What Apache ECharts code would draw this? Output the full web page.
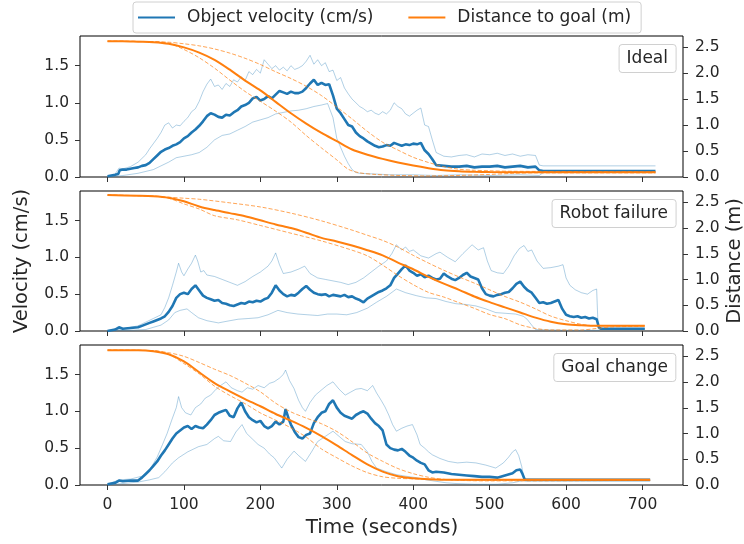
<!DOCTYPE html>
<html>
<head>
<meta charset="utf-8">
<script src="https://cdn.jsdelivr.net/npm/echarts@6/dist/echarts.min.js"></script>
<style>
  html, body { margin: 0; padding: 0; background: #fff; }
  #chart { width: 744px; height: 544px; }
</style>
</head>
<body>
<div id="chart"></div>
<script>
// tick labels
const timeTicks = [0, 100, 200, 300, 400, 500, 600, 700];
const velocityTicks = [0, 0.5, 1, 1.5];
const distanceTicks = [0, 0.5, 1, 1.5, 2, 2.5];
const panelNames = ['Ideal', 'Robot failure', 'Goal change'];

// ---- Ideal: velocity [time, cm/s] ----
const idealVelMean = [[0,0.01],[5,0.02],[10,0.03],[14,0.04],[16,0.09],[20,0.1],[25,0.1],[30,0.11],[35,0.12],[40,0.13],[45,0.15],[50,0.16],[55,0.19],[60,0.24],[65,0.29],[70,0.34],[75,0.37],[80,0.39],[85,0.42],[90,0.44],[95,0.47],[100,0.52],[105,0.55],[110,0.6],[115,0.64],[120,0.69],[125,0.75],[130,0.82],[135,0.86],[140,0.84],[145,0.81],[150,0.8],[155,0.84],[160,0.83],[165,0.87],[170,0.9],[175,0.95],[180,0.97],[185,1.0],[190,1.06],[195,1.08],[200,1.03],[205,1.05],[210,1.09],[215,1.06],[220,1.11],[225,1.16],[230,1.14],[235,1.12],[240,1.15],[245,1.13],[250,1.13],[255,1.15],[260,1.2],[265,1.26],[270,1.31],[275,1.24],[280,1.27],[285,1.24],[290,1.25],[295,1.1],[300,0.92],[305,0.86],[310,0.78],[315,0.7],[320,0.68],[325,0.6],[330,0.55],[335,0.52],[340,0.48],[345,0.45],[350,0.42],[355,0.4],[360,0.41],[365,0.43],[370,0.42],[375,0.46],[380,0.44],[385,0.42],[390,0.44],[395,0.43],[400,0.45],[405,0.44],[410,0.46],[415,0.36],[420,0.31],[425,0.24],[430,0.16],[440,0.15],[450,0.14],[460,0.14],[470,0.15],[480,0.13],[490,0.14],[500,0.14],[510,0.15],[520,0.13],[530,0.14],[540,0.15],[550,0.13],[560,0.14],[565,0.09],[570,0.08],[600,0.08],[650,0.08],[717,0.08]];
const idealVelHigh = [[0,0.01],[10,0.04],[15,0.12],[20,0.11],[30,0.14],[40,0.2],[50,0.3],[55,0.38],[60,0.45],[65,0.52],[70,0.6],[75,0.7],[80,0.73],[85,0.66],[90,0.7],[95,0.69],[100,0.75],[105,0.8],[110,0.88],[115,0.92],[120,1.02],[125,1.15],[130,1.25],[135,1.32],[140,1.22],[145,1.24],[150,1.18],[155,1.26],[160,1.22],[165,1.31],[170,1.28],[175,1.35],[180,1.3],[185,1.42],[190,1.38],[195,1.45],[200,1.4],[205,1.58],[210,1.52],[215,1.46],[220,1.5],[225,1.44],[230,1.48],[235,1.43],[240,1.5],[245,1.45],[250,1.47],[255,1.5],[260,1.56],[265,1.64],[270,1.52],[275,1.58],[280,1.5],[285,1.54],[290,1.42],[295,1.44],[300,1.3],[305,1.34],[310,1.2],[315,1.12],[320,1.05],[325,1.0],[330,0.95],[335,0.92],[340,0.88],[345,0.9],[350,0.86],[355,0.84],[360,0.88],[365,0.85],[370,0.9],[375,1.0],[380,0.95],[385,0.92],[390,0.85],[395,0.82],[400,0.86],[405,0.9],[410,0.93],[415,0.7],[420,0.68],[425,0.5],[430,0.33],[440,0.28],[450,0.27],[460,0.29],[470,0.3],[480,0.27],[490,0.31],[500,0.3],[510,0.32],[520,0.29],[530,0.31],[540,0.28],[550,0.3],[560,0.29],[565,0.16],[570,0.15],[717,0.15]];
const idealVelLow = [[0,0],[20,0.02],[40,0.05],[60,0.1],[70,0.15],[80,0.2],[90,0.26],[100,0.28],[110,0.3],[120,0.33],[130,0.4],[140,0.5],[150,0.56],[160,0.58],[170,0.63],[180,0.68],[190,0.74],[200,0.77],[210,0.8],[220,0.85],[230,0.87],[240,0.89],[250,0.9],[260,0.92],[270,0.95],[280,0.97],[288,0.99],[295,0.8],[300,0.52],[305,0.4],[310,0.28],[315,0.18],[320,0.1],[325,0.06],[330,0.05],[350,0.04],[370,0.03],[400,0.03],[430,0.02],[460,0.03],[500,0.02],[540,0.03],[565,0.02],[570,0.06],[717,0.06]];
// ---- Ideal: distance [time, m] ----
const idealDistMean = [[0,2.62],[20,2.62],[40,2.61],[60,2.6],[80,2.57],[100,2.5],[120,2.4],[140,2.26],[160,2.07],[180,1.86],[200,1.67],[220,1.45],[240,1.23],[260,1.03],[280,0.85],[300,0.69],[320,0.53],[340,0.43],[360,0.35],[380,0.28],[400,0.22],[420,0.17],[440,0.13],[460,0.11],[480,0.1],[500,0.095],[550,0.09],[717,0.09]];
const idealDistHigh = [[0,2.62],[60,2.61],[80,2.6],[100,2.57],[120,2.53],[140,2.47],[160,2.39],[180,2.29],[200,2.17],[220,2.03],[240,1.9],[260,1.75],[280,1.57],[300,1.35],[320,1.12],[340,0.88],[360,0.67],[380,0.52],[400,0.38],[420,0.28],[440,0.2],[460,0.15],[480,0.13],[500,0.12],[530,0.11],[717,0.1]];
const idealDistLow = [[0,2.62],[60,2.61],[80,2.58],[100,2.46],[120,2.3],[140,2.1],[160,1.87],[180,1.65],[200,1.46],[220,1.27],[240,1.06],[260,0.8],[280,0.56],[300,0.33],[315,0.15],[330,0.08],[350,0.05],[380,0.03],[420,0.02],[460,0.03],[500,0.05],[530,0.07],[560,0.08],[717,0.08]];

// ---- Robot failure ----
const failVelMean = [[0,0],[10,0.02],[15,0.05],[20,0.03],[30,0.04],[40,0.05],[45,0.07],[50,0.09],[55,0.11],[60,0.13],[65,0.15],[70,0.17],[75,0.2],[80,0.26],[85,0.34],[90,0.45],[95,0.5],[100,0.52],[105,0.5],[110,0.57],[115,0.62],[120,0.55],[125,0.48],[130,0.45],[135,0.43],[140,0.41],[145,0.42],[150,0.38],[155,0.37],[160,0.35],[165,0.34],[170,0.36],[175,0.38],[180,0.37],[185,0.4],[190,0.39],[195,0.41],[200,0.4],[205,0.43],[210,0.45],[215,0.52],[220,0.62],[225,0.55],[230,0.5],[235,0.47],[240,0.49],[245,0.48],[250,0.52],[255,0.57],[260,0.61],[265,0.56],[270,0.52],[275,0.5],[280,0.49],[285,0.5],[290,0.47],[295,0.49],[300,0.48],[305,0.47],[310,0.49],[315,0.46],[320,0.47],[325,0.44],[330,0.42],[335,0.39],[340,0.44],[345,0.47],[350,0.5],[355,0.53],[360,0.55],[365,0.58],[370,0.62],[375,0.72],[380,0.78],[385,0.84],[390,0.89],[395,0.82],[400,0.79],[405,0.75],[410,0.77],[415,0.73],[420,0.75],[425,0.72],[430,0.7],[435,0.71],[440,0.78],[445,0.74],[450,0.71],[455,0.69],[460,0.72],[465,0.76],[470,0.79],[475,0.74],[480,0.72],[485,0.7],[490,0.58],[495,0.5],[500,0.48],[505,0.47],[510,0.49],[515,0.5],[520,0.52],[525,0.53],[530,0.58],[535,0.64],[540,0.67],[545,0.6],[550,0.55],[555,0.52],[560,0.45],[565,0.38],[570,0.39],[575,0.37],[580,0.38],[585,0.4],[590,0.42],[595,0.3],[600,0.22],[605,0.2],[610,0.19],[615,0.2],[620,0.18],[625,0.19],[630,0.17],[635,0.18],[640,0.16],[643,0.05],[646,0.03],[703,0.03]];
const failVelHigh = [[0,0],[20,0.03],[30,0.05],[40,0.07],[50,0.12],[60,0.17],[70,0.22],[75,0.32],[80,0.45],[85,0.62],[90,0.8],[93,0.92],[97,0.8],[100,0.75],[105,0.84],[110,0.92],[115,1.03],[118,0.95],[122,0.8],[126,0.82],[130,0.76],[140,0.74],[150,0.7],[160,0.66],[170,0.62],[180,0.67],[190,0.74],[200,0.8],[210,0.88],[215,0.95],[220,1.06],[225,0.9],[230,0.78],[240,0.8],[250,0.84],[258,0.88],[265,0.78],[275,0.72],[285,0.7],[295,0.68],[305,0.66],[315,0.63],[325,0.66],[335,0.72],[345,0.8],[355,0.88],[365,0.95],[372,1.05],[378,1.17],[385,1.1],[390,1.14],[395,1.08],[400,1.1],[410,1.02],[420,0.99],[430,1.05],[435,1.07],[445,1.0],[455,0.94],[465,1.05],[472,1.12],[477,1.17],[485,1.1],[492,1.13],[497,0.95],[502,0.82],[510,0.79],[518,0.78],[525,0.88],[532,1.02],[539,1.12],[545,1.16],[550,1.08],[555,1.1],[562,0.95],[570,0.85],[580,0.86],[590,0.88],[596,0.9],[600,0.72],[605,0.62],[612,0.56],[620,0.52],[628,0.5],[635,0.55],[640,0.57],[642,0.03],[703,0.03]];
const failVelLow = [[0,0],[30,0.01],[50,0.02],[60,0.05],[70,0.08],[80,0.15],[88,0.25],[95,0.28],[104,0.3],[110,0.25],[119,0.18],[130,0.14],[145,0.11],[155,0.13],[171,0.16],[185,0.17],[197,0.18],[210,0.22],[223,0.28],[235,0.25],[249,0.23],[262,0.22],[275,0.21],[288,0.23],[300,0.23],[313,0.22],[326,0.25],[340,0.31],[352,0.39],[365,0.47],[378,0.57],[390,0.52],[404,0.48],[417,0.45],[430,0.44],[443,0.4],[456,0.37],[469,0.36],[482,0.34],[495,0.3],[508,0.25],[521,0.24],[534,0.23],[544,0.2],[549,0.16],[555,0.08],[560,0.02],[600,0.01],[643,0.01],[646,0.03],[703,0.03]];
const failDistMean = [[0,2.64],[40,2.63],[60,2.62],[80,2.59],[100,2.52],[120,2.42],[140,2.35],[160,2.29],[180,2.23],[200,2.15],[220,2.07],[240,2.0],[260,1.91],[280,1.81],[300,1.74],[320,1.66],[340,1.57],[360,1.47],[380,1.33],[400,1.2],[420,1.05],[440,0.92],[460,0.8],[480,0.67],[500,0.56],[520,0.46],[540,0.36],[560,0.26],[580,0.18],[600,0.13],[620,0.11],[640,0.1],[703,0.1]];
const failDistHigh = [[0,2.64],[60,2.62],[80,2.6],[100,2.58],[120,2.56],[160,2.49],[200,2.41],[240,2.29],[280,2.14],[320,1.96],[340,1.86],[360,1.76],[380,1.63],[400,1.47],[420,1.32],[440,1.18],[460,1.05],[480,0.93],[500,0.8],[520,0.67],[540,0.56],[560,0.43],[580,0.29],[600,0.2],[620,0.13],[640,0.1],[703,0.1]];
const failDistLow = [[0,2.64],[60,2.62],[80,2.58],[100,2.47],[120,2.37],[140,2.24],[170,2.16],[200,2.05],[240,1.9],[280,1.75],[320,1.57],[340,1.46],[360,1.28],[380,1.08],[400,0.9],[420,0.75],[440,0.66],[460,0.55],[480,0.44],[500,0.32],[520,0.24],[540,0.12],[560,0.05],[580,0.02],[620,0.02],[640,0.05],[660,0.08],[703,0.09]];

// ---- Goal change ----
const goalVelMean = [[0,0.01],[10,0.03],[15,0.06],[20,0.05],[30,0.06],[40,0.06],[45,0.1],[50,0.15],[55,0.2],[60,0.26],[65,0.32],[70,0.4],[75,0.47],[80,0.55],[85,0.63],[90,0.7],[95,0.74],[100,0.78],[105,0.8],[110,0.76],[115,0.8],[120,0.78],[125,0.77],[130,0.82],[135,0.88],[140,0.95],[145,0.98],[150,1.0],[155,1.02],[160,0.94],[165,0.92],[170,1.04],[175,1.12],[180,1.0],[185,0.92],[190,0.88],[195,0.85],[200,0.87],[205,0.8],[210,0.77],[215,0.8],[220,0.86],[225,0.82],[230,0.86],[233,1.03],[237,0.9],[240,0.82],[245,0.72],[250,0.65],[255,0.63],[260,0.68],[265,0.7],[270,0.84],[275,0.92],[280,0.98],[285,1.0],[290,1.1],[295,1.15],[300,1.05],[305,0.98],[310,0.94],[315,0.92],[320,0.9],[325,0.95],[330,0.98],[335,1.0],[340,0.97],[345,0.9],[350,0.84],[355,0.8],[360,0.74],[365,0.55],[370,0.5],[375,0.48],[380,0.47],[385,0.49],[390,0.45],[395,0.4],[400,0.37],[405,0.33],[410,0.3],[415,0.28],[420,0.2],[425,0.17],[430,0.18],[440,0.17],[450,0.15],[460,0.14],[470,0.13],[480,0.12],[490,0.11],[500,0.11],[510,0.1],[520,0.13],[530,0.16],[535,0.2],[540,0.21],[543,0.15],[546,0.07],[710,0.07]];
const goalVelHigh = [[0,0.01],[15,0.07],[30,0.08],[45,0.12],[55,0.2],[65,0.38],[72,0.55],[78,0.7],[84,0.88],[90,1.05],[93,1.2],[97,1.05],[102,0.98],[109,0.95],[115,1.05],[122,1.1],[128,1.18],[135,1.22],[142,1.3],[148,1.35],[155,1.4],[162,1.32],[170,1.28],[176,1.26],[183,1.32],[190,1.3],[197,1.35],[205,1.32],[212,1.38],[218,1.4],[225,1.45],[230,1.5],[233,1.56],[238,1.42],[244,1.31],[250,1.15],[255,1.05],[259,1.0],[265,1.12],[272,1.22],[280,1.29],[287,1.35],[295,1.4],[303,1.3],[311,1.22],[318,1.26],[325,1.3],[332,1.31],[340,1.28],[347,1.35],[352,1.25],[358,1.15],[363,1.06],[368,0.95],[373,0.82],[378,0.73],[385,0.77],[392,0.8],[399,0.82],[405,0.68],[409,0.55],[415,0.5],[420,0.45],[425,0.41],[435,0.36],[446,0.32],[458,0.3],[470,0.31],[482,0.3],[495,0.27],[508,0.23],[518,0.3],[525,0.38],[530,0.45],[534,0.48],[538,0.4],[542,0.25],[545,0.08],[710,0.07]];
const goalVelLow = [[0,0],[20,0.02],[40,0.04],[55,0.07],[67,0.1],[75,0.18],[85,0.3],[93,0.37],[105,0.45],[119,0.52],[130,0.55],[140,0.63],[145,0.66],[152,0.6],[161,0.59],[168,0.72],[176,0.82],[182,0.7],[190,0.62],[197,0.55],[205,0.5],[212,0.42],[218,0.37],[223,0.3],[228,0.23],[235,0.35],[244,0.46],[250,0.4],[259,0.32],[267,0.45],[275,0.59],[285,0.66],[295,0.73],[303,0.66],[311,0.59],[320,0.56],[332,0.55],[340,0.45],[346,0.32],[352,0.23],[365,0.18],[378,0.14],[390,0.12],[404,0.1],[417,0.07],[430,0.05],[443,0.03],[456,0.02],[480,0.01],[510,0.01],[530,0.03],[539,0.05],[545,0.06],[710,0.06]];
const goalDistMean = [[0,2.62],[40,2.62],[60,2.6],[80,2.54],[100,2.4],[120,2.19],[140,1.98],[160,1.82],[180,1.67],[200,1.53],[220,1.38],[240,1.25],[260,1.11],[280,0.95],[300,0.77],[320,0.58],[340,0.4],[360,0.26],[380,0.17],[400,0.13],[420,0.11],[450,0.1],[710,0.1]];
const goalDistHigh = [[0,2.62],[60,2.61],[80,2.57],[100,2.5],[120,2.38],[140,2.25],[160,2.13],[180,1.98],[200,1.81],[220,1.59],[240,1.42],[260,1.3],[280,1.19],[300,1.04],[320,0.84],[340,0.62],[360,0.46],[380,0.32],[400,0.22],[420,0.15],[440,0.11],[460,0.09],[500,0.08],[710,0.09]];
const goalDistLow = [[0,2.62],[60,2.61],[80,2.54],[100,2.36],[120,2.16],[140,1.92],[160,1.74],[180,1.58],[200,1.4],[220,1.26],[240,1.11],[260,0.93],[280,0.7],[300,0.53],[320,0.37],[340,0.24],[360,0.16],[380,0.13],[400,0.12],[450,0.1],[500,0.09],[710,0.09]];

const panels = [
  { vel: [idealVelMean, idealVelHigh, idealVelLow], dist: [idealDistMean, idealDistHigh, idealDistLow] },
  { vel: [failVelMean, failVelHigh, failVelLow], dist: [failDistMean, failDistHigh, failDistLow] },
  { vel: [goalVelMean, goalVelHigh, goalVelLow], dist: [goalDistMean, goalDistHigh, goalDistLow] }
];

const BLUE = '#1f77b4', ORANGE = '#ff7f0e';
const FONT = 'DejaVu Sans';
const TEXT = '#262626';
const VEL_NAME = 'Object velocity (cm/s)';
const DIST_NAME = 'Distance to goal (m)';

const gridTops = [36, 191, 345];
const gridHeights = [141, 140, 140];

const grids = [], xAxes = [], yAxes = [], series = [], titles = [];

panels.forEach((p, i) => {
  grids.push({
    left: 80, width: 603, top: gridTops[i], height: gridHeights[i],
    show: true, borderColor: '#000', borderWidth: 1, containLabel: false
  });
  xAxes.push({
    type: 'value', gridIndex: i, min: -36, max: 753,
    axisLine: { show: false, onZero: false },
    splitLine: { show: false },
    axisTick: { show: true, length: 5, customValues: timeTicks, lineStyle: { color: '#333' } },
    axisLabel: {
      show: i === 2, customValues: timeTicks, margin: 12,
      fontFamily: FONT, fontSize: 15.5, color: TEXT
    }
  });
  yAxes.push({
    type: 'value', gridIndex: i, position: 'left', min: 0, max: 1.9,
    axisLine: { show: false, onZero: false }, splitLine: { show: false },
    axisTick: { show: true, length: 5, customValues: velocityTicks, lineStyle: { color: '#333' } },
    axisLabel: {
      customValues: velocityTicks, margin: 11, fontFamily: FONT, fontSize: 15.5, color: TEXT,
      formatter: v => v.toFixed(1)
    }
  });
  yAxes.push({
    type: 'value', gridIndex: i, position: 'right', min: 0, max: 2.72,
    axisLine: { show: false, onZero: false }, splitLine: { show: false },
    axisTick: { show: true, length: 5, customValues: distanceTicks, lineStyle: { color: '#333' } },
    axisLabel: {
      customValues: distanceTicks, margin: 12, fontFamily: FONT, fontSize: 15.5, color: TEXT,
      formatter: v => v.toFixed(1)
    }
  });

  const base = { type: 'line', xAxisIndex: i, showSymbol: false, symbol: 'none', animation: false, silent: true };
  // velocity bands + mean
  series.push(Object.assign({}, base, {
    name: 'velocity upper', yAxisIndex: 2 * i, data: p.vel[1], z: 1,
    lineStyle: { color: BLUE, width: 0.7, opacity: 0.5 }, itemStyle: { color: BLUE }
  }));
  series.push(Object.assign({}, base, {
    name: 'velocity lower', yAxisIndex: 2 * i, data: p.vel[2], z: 1,
    lineStyle: { color: BLUE, width: 0.7, opacity: 0.5 }, itemStyle: { color: BLUE }
  }));
  series.push(Object.assign({}, base, {
    name: VEL_NAME, yAxisIndex: 2 * i, data: p.vel[0], z: 2,
    lineStyle: { color: BLUE, width: 2.6 }, itemStyle: { color: BLUE }
  }));
  // distance bands + mean
  series.push(Object.assign({}, base, {
    name: 'distance upper', yAxisIndex: 2 * i + 1, data: p.dist[1], z: 3, smooth: 0.3,
    lineStyle: { color: ORANGE, width: 1, opacity: 0.7, type: [4, 2] }, itemStyle: { color: ORANGE }
  }));
  series.push(Object.assign({}, base, {
    name: 'distance lower', yAxisIndex: 2 * i + 1, data: p.dist[2], z: 3, smooth: 0.3,
    lineStyle: { color: ORANGE, width: 1, opacity: 0.7, type: [4, 2] }, itemStyle: { color: ORANGE }
  }));
  series.push(Object.assign({}, base, {
    name: DIST_NAME, yAxisIndex: 2 * i + 1, data: p.dist[0], z: 4, smooth: 0.3,
    lineStyle: { color: ORANGE, width: 2 }, itemStyle: { color: ORANGE }
  }));

  titles.push({
    text: panelNames[i], right: 68, top: gridTops[i] + 8,
    padding: [6, 8], borderColor: '#d0d0d0', borderWidth: 1, borderRadius: 3,
    backgroundColor: 'rgba(255,255,255,0.85)',
    textStyle: { fontFamily: FONT, fontSize: 17, fontWeight: 'normal', color: TEXT }
  });
});

const chart = echarts.init(document.getElementById('chart'), null, { renderer: 'canvas' });
chart.setOption({
  animation: false,
  backgroundColor: '#fff',
  title: titles,
  legend: {
    data: [{ name: VEL_NAME, icon: 'rect' }, { name: DIST_NAME, icon: 'rect' }],
    left: 133, top: 2, orient: 'horizontal',
    padding: [7, 10, 7, 5], itemGap: 35, itemWidth: 37, itemHeight: 2,
    borderColor: '#d0d0d0', borderWidth: 1, borderRadius: 3,
    backgroundColor: 'rgba(255,255,255,0.85)',
    selectedMode: false,
    textStyle: { fontFamily: FONT, fontSize: 17, color: TEXT, padding: [0, 0, 0, 7] }
  },
  grid: grids,
  xAxis: xAxes,
  yAxis: yAxes,
  series: series,
  graphic: [
    { type: 'text', x: 22, y: 261, rotation: Math.PI / 2,
      style: { text: 'Velocity (cm/s)', fontFamily: FONT, fontSize: 19.5, fill: TEXT, align: 'center', verticalAlign: 'middle' } },
    { type: 'text', x: 735, y: 261, rotation: Math.PI / 2,
      style: { text: 'Distance (m)', fontFamily: FONT, fontSize: 19.5, fill: TEXT, align: 'center', verticalAlign: 'middle' } },
    { type: 'text', x: 382, y: 528,
      style: { text: 'Time (seconds)', fontFamily: FONT, fontSize: 20, fill: TEXT, align: 'center', verticalAlign: 'middle' } }
  ]
});
</script>
</body>
</html>
